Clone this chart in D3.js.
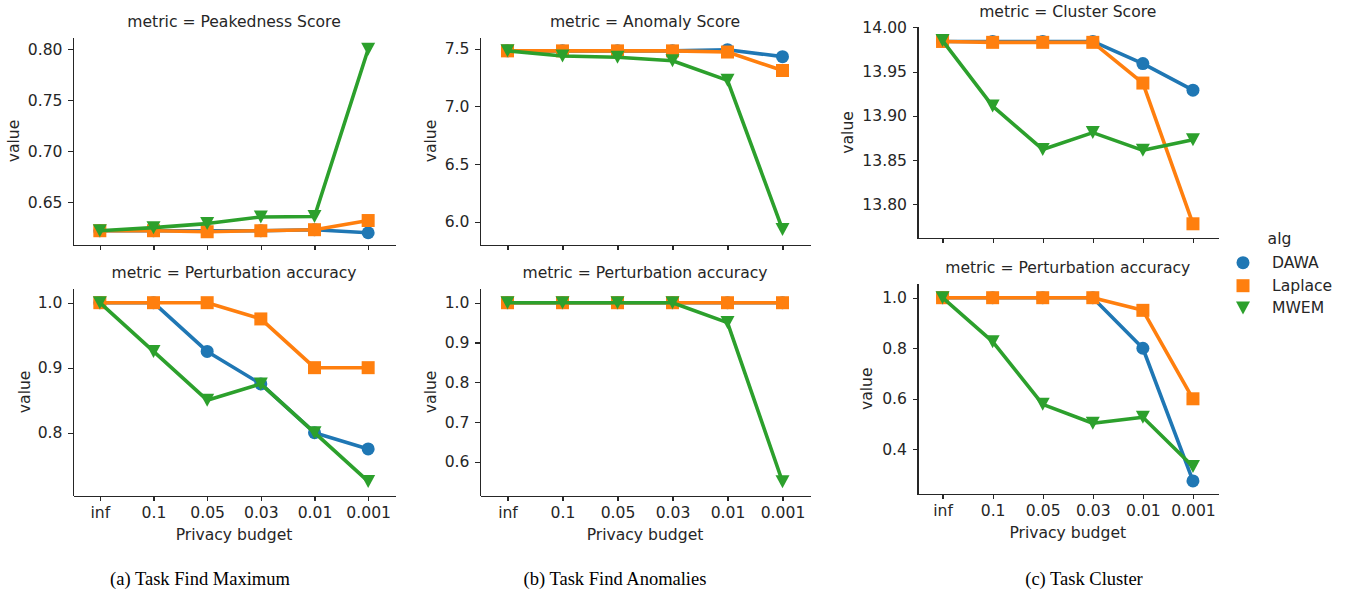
<!DOCTYPE html>
<html lang="en">
<head>
<meta charset="UTF-8">
<title>Privacy budget</title>
<script src="https://cdn.jsdelivr.net/npm/d3@7"></script>
<style>
body{margin:0;background:#fff;}
svg text{font-family:"DejaVu Sans",sans-serif;fill:#262626;}
.axis path,.axis line{stroke:#262626;stroke-width:1.1px;shape-rendering:crispEdges;}
.axis text{font-size:15.6px;fill:#262626;}
.title,.label,.legend{font-size:15.6px;}
.caption{font-family:"Liberation Serif","Times New Roman",serif;font-size:18.5px;fill:#000;}
</style>
</head>
<body>
<div id="chart"></div>
<script>
// categories
var budgets = ["inf","0.1","0.05","0.03","0.01","0.001"];
var algs = ["DAWA","Laplace","MWEM"];
var colors = ["#1f77b4","#ff7f0e","#2ca02c"];

// (a) Task Find Maximum
var peakDAWA    = [0.622,0.622,0.622,0.622,0.623,0.620];
var peakLaplace = [0.622,0.622,0.621,0.622,0.623,0.632];
var peakMWEM    = [0.622,0.625,0.629,0.6355,0.636,0.800];
var maxAccDAWA    = [1.0,1.0,0.925,0.875,0.80,0.775];
var maxAccLaplace = [1.0,1.0,1.0,0.975,0.90,0.90];
var maxAccMWEM    = [1.0,0.925,0.85,0.875,0.80,0.725];

// (b) Task Find Anomalies
var anomDAWA    = [7.48,7.48,7.48,7.48,7.49,7.43];
var anomLaplace = [7.48,7.48,7.48,7.48,7.47,7.31];
var anomMWEM    = [7.48,7.435,7.425,7.395,7.225,5.935];
var anomAccDAWA    = [1.0,1.0,1.0,1.0,1.0,1.0];
var anomAccLaplace = [1.0,1.0,1.0,1.0,1.0,1.0];
var anomAccMWEM    = [1.0,1.0,1.0,1.0,0.95,0.55];

// (c) Task Cluster
var clusDAWA    = [13.984,13.984,13.984,13.984,13.959,13.929];
var clusLaplace = [13.984,13.983,13.983,13.983,13.937,13.778];
var clusMWEM    = [13.985,13.911,13.862,13.881,13.861,13.873];
var clusAccDAWA    = [1.0,1.0,1.0,1.0,0.80,0.275];
var clusAccLaplace = [1.0,1.0,1.0,1.0,0.95,0.60];
var clusAccMWEM    = [1.0,0.826,0.578,0.503,0.527,0.332];

// tick labels
var peakTicks    = [0.65,0.70,0.75,0.80];
var maxAccTicks  = [0.8,0.9,1.0];
var anomTicks    = [6.0,6.5,7.0,7.5];
var anomAccTicks = [0.6,0.7,0.8,0.9,1.0];
var clusTicks    = [13.80,13.85,13.90,13.95,14.00];
var clusAccTicks = [0.4,0.6,0.8,1.0];

var captions = ["(a) Task Find Maximum","(b) Task Find Anomalies","(c) Task Cluster"];

var width = 1349, height = 595;

// panel layout
var panels = [
	{title:"metric = Peakedness Score",     x0:73,  x1:395,  y0:37,   y1:245,   dom:[0.608,0.812],    ticks:peakTicks,    fmt:".2f", series:[peakDAWA,peakLaplace,peakMWEM],       lab:19,  bottom:false},
	{title:"metric = Perturbation accuracy", x0:73,  x1:395,  y0:288,  y1:495.7, dom:[0.703,1.0226],   ticks:maxAccTicks,  fmt:".1f", series:[maxAccDAWA,maxAccLaplace,maxAccMWEM], lab:30,  bottom:true},
	{title:"metric = Anomaly Score",        x0:480, x1:810,  y0:37,   y1:245,   dom:[5.80,7.60],      ticks:anomTicks,    fmt:".1f", series:[anomDAWA,anomLaplace,anomMWEM],       lab:436, bottom:false},
	{title:"metric = Perturbation accuracy", x0:480, x1:810,  y0:288,  y1:495.7, dom:[0.515,1.037],    ticks:anomAccTicks, fmt:".1f", series:[anomAccDAWA,anomAccLaplace,anomAccMWEM], lab:436, bottom:true},
	{title:"metric = Cluster Score",        x0:917.5, x1:1218, y0:26.5, y1:238.3, dom:[13.7616,14.0009], ticks:clusTicks, fmt:".2f", series:[clusDAWA,clusLaplace,clusMWEM],   lab:853, bottom:false},
	{title:"metric = Perturbation accuracy", x0:917.5, x1:1218, y0:283.3, y1:494.3, dom:[0.222,1.057],  ticks:clusAccTicks, fmt:".1f", series:[clusAccDAWA,clusAccLaplace,clusAccMWEM], lab:872, bottom:true}
];
var captionX = [200,615,1084];

var svg = d3.select("#chart").append("svg")
	.attr("width",width)
	.attr("height",height);

// marker shapes
var circleSym = d3.symbol().type(d3.symbolCircle).size(Math.PI*6.5*6.5);
var squareSym = d3.symbol().type(d3.symbolSquare).size(13*13);
var triPath = "M-7,-6.5L7,-6.5L0,6.5Z";
function markerPath(i){
	if(i==0) return circleSym();
	if(i==1) return squareSym();
	return triPath;
}

panels.forEach(function(p){
	var x = d3.scalePoint()
		.domain(budgets)
		.range([p.x0,p.x1])
		.padding(0.5);
	var y = d3.scaleLinear()
		.domain(p.dom)
		.range([p.y1,p.y0]);

	var g = svg.append("g");

	// axes
	g.append("g")
		.attr("class","axis")
		.attr("transform","translate(0,"+p.y1+")")
		.call(d3.axisBottom(x).tickSize(5).tickSizeOuter(0).tickPadding(6)
			.tickFormat(p.bottom ? null : function(){return "";}));
	g.append("g")
		.attr("class","axis")
		.attr("transform","translate("+p.x0+",0)")
		.call(d3.axisLeft(y).tickValues(p.ticks).tickSize(5).tickSizeOuter(0).tickPadding(5.5)
			.tickFormat(d3.format(p.fmt)));
	g.selectAll(".axis .domain").attr("fill","none");

	// labels
	g.append("text")
		.attr("class","title")
		.attr("x",(p.x0+p.x1)/2)
		.attr("y",p.y0-10)
		.attr("text-anchor","middle")
		.text(p.title);
	g.append("text")
		.attr("class","label")
		.attr("transform","translate("+p.lab+","+((p.y0+p.y1)/2)+") rotate(-90)")
		.attr("text-anchor","middle")
		.text("value");
	if(p.bottom){
		g.append("text")
			.attr("class","label")
			.attr("x",(p.x0+p.x1)/2)
			.attr("y",p.y1+44)
			.attr("text-anchor","middle")
			.text("Privacy budget");
	}

	// lines + markers
	var line = d3.line()
		.x(function(d,i){return x(budgets[i]);})
		.y(function(d){return y(d);});
	p.series.forEach(function(vals,k){
		g.append("path")
			.attr("d",line(vals))
			.attr("fill","none")
			.attr("stroke",colors[k])
			.attr("stroke-width",3.6)
			.attr("stroke-linejoin","round");
		g.selectAll("path.m"+k)
			.data(vals)
			.enter()
			.append("path")
			.attr("class","m"+k)
			.attr("d",markerPath(k))
			.attr("transform",function(d,i){return "translate("+x(budgets[i])+","+y(d)+")";})
			.attr("fill",colors[k]);
	});
});

// captions
svg.selectAll("text.caption")
	.data(captions)
	.enter()
	.append("text")
	.attr("class","caption")
	.attr("x",function(d,i){return captionX[i];})
	.attr("y",585)
	.attr("text-anchor","middle")
	.text(function(d){return d;});

// legend
var leg = svg.append("g").attr("transform","translate(1243,0)");
leg.append("text")
	.attr("class","legend")
	.attr("x",36.5)
	.attr("y",244)
	.attr("text-anchor","middle")
	.text("alg");
var legY = [262.7,285.7,308];
algs.forEach(function(a,k){
	leg.append("path")
		.attr("d",markerPath(k))
		.attr("transform","translate(0,"+legY[k]+")")
		.attr("fill",colors[k]);
	leg.append("text")
		.attr("class","legend")
		.attr("x",29)
		.attr("y",legY[k]+5.3)
		.text(a);
});
</script>
</body>
</html>
